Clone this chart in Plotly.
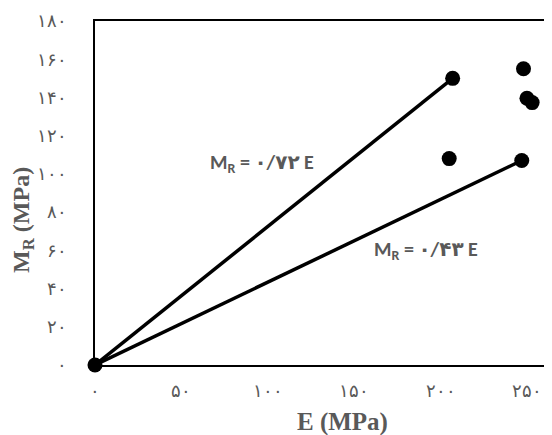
import plotly.graph_objects as go

# Data
E_points = [0, 207, 205, 247, 248, 250, 253]
MR_points = [0, 150, 108, 107, 155, 139.6, 137.3]

line1_x = [0, 207]
line1_y = [0, 150]
line2_x = [0, 247]
line2_y = [0, 107]

x_tickvals = [0, 50, 100, 150, 200, 250]
x_ticktext = ["۰", "۵۰", "۱۰۰", "۱۵۰", "۲۰۰", "۲۵۰"]
y_tickvals = [0, 20, 40, 60, 80, 100, 120, 140, 160, 180]
y_ticktext = ["۰", "۲۰", "۴۰", "۶۰", "۸۰", "۱۰۰", "۱۲۰", "۱۴۰", "۱۶۰", "۱۸۰"]

eq1 = "M<sub>R</sub> = ۰/۷۲ E"
eq2 = "M<sub>R</sub> = ۰/۴۳ E"

gray = "#595959"
serif = "Times New Roman, Liberation Serif, DejaVu Serif, serif"
sans = "Calibri, Carlito, Open Sans, Noto Sans, DejaVu Sans, sans-serif"

fig = go.Figure()
fig.add_trace(go.Scatter(x=line1_x, y=line1_y, mode="lines",
                         line=dict(color="black", width=3.5), cliponaxis=False, showlegend=False))
fig.add_trace(go.Scatter(x=line2_x, y=line2_y, mode="lines",
                         line=dict(color="black", width=3.5), cliponaxis=False, showlegend=False))
fig.add_trace(go.Scatter(x=E_points, y=MR_points, mode="markers",
                         marker=dict(color="black", size=15), cliponaxis=False, showlegend=False))

# page body adds an 8px offset; size/margins compensate for it
fig.update_layout(
    width=544, height=427,
    margin=dict(l=87, r=0, t=13, b=70),
    plot_bgcolor="white", paper_bgcolor="white",
    xaxis=dict(range=[0, 264.5], tickvals=x_tickvals, ticktext=x_ticktext,
               showgrid=False, zeroline=False, showline=True, mirror=True,
               linecolor="black", linewidth=2, ticks="",
               tickfont=dict(family=serif, size=18, color=gray), ticklabelstandoff=8),
    yaxis=dict(range=[0, 180], tickvals=y_tickvals, ticktext=y_ticktext,
               showgrid=False, zeroline=False, showline=True, mirror=False,
               linecolor="black", linewidth=2, ticks="",
               tickfont=dict(family=serif, size=18, color=gray), ticklabelstandoff=22),
    annotations=[
        dict(text=eq1, x=96.6, y=105.7, xref="x", yref="y", showarrow=False,
             font=dict(family=sans, size=20, color=gray, weight="bold")),
        dict(text=eq2, x=191.5, y=59.7, xref="x", yref="y", showarrow=False,
             font=dict(family=sans, size=20, color=gray, weight="bold")),
        dict(text="E (MPa)", x=143.5, y=0, xref="x", yref="paper", yshift=-57,
             yanchor="middle", showarrow=False,
             font=dict(family=serif, size=25, color=gray, weight="bold")),
        dict(text="M<sub>R</sub> (MPa)", x=0, y=75.9, xref="paper", yref="y", xshift=-72,
             xanchor="center", yanchor="middle", textangle=-90, showarrow=False,
             borderpad=0,
             font=dict(family=serif, size=24, color=gray, weight="bold")),
    ],
)

fig.write_html("out.html")
